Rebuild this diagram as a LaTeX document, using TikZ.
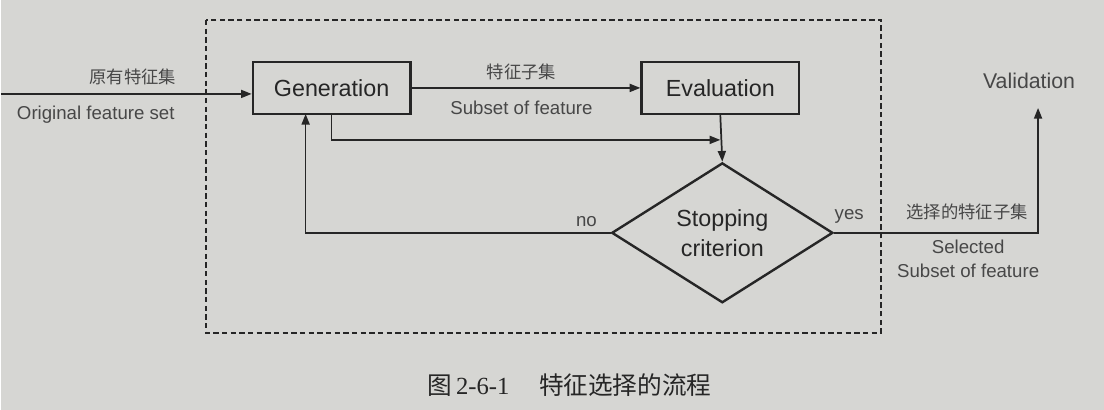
\documentclass[tikz,border=0pt]{standalone}
\usepackage{fontspec}
\setmainfont{Liberation Sans}
\newfontfamily\cjk{Noto Sans CJK SC}
\newfontfamily\capserif{Liberation Serif}
\usetikzlibrary{shapes.geometric, arrows.meta}
\definecolor{paper}{RGB}{214,214,211}
\definecolor{ink}{RGB}{38,38,38}

\tikzset{
  procbox/.style={draw=ink, line width=2pt, minimum width=118pt, minimum height=39pt, inner sep=0pt, font=\fontsize{17.5}{20}\selectfont, text=ink},
  critbox/.style={draw=ink, line width=1.8pt, diamond, minimum width=166pt, minimum height=105pt, inner sep=0pt, align=center, font=\fontsize{17.5}{22.5}\selectfont, text=ink},
  lbl/.style={inner sep=0.75pt, font=\fontsize{14}{16}\selectfont, text=ink!85},
  cnlbl/.style={inner sep=0.75pt, font=\cjk\fontsize{13}{15}\selectfont, text=ink!85},
  flow/.style={draw=ink, line width=1.3pt, -{Triangle[length=8pt,width=6pt]}},
}

\begin{document}
\begin{tikzpicture}[x=0.75pt,y=0.75pt,yscale=-1,xscale=1]
%set diagram left start at 0, and has height of 410
\path[fill=paper] (0,0) rectangle (1104,410);

%Dashed Box
\draw[ink, line width=1.6pt, dash pattern=on 4pt off 2.5pt] (205,20) rectangle (881,333);

% Shape: Rectangle
\node[procbox] (gen) at (331,88) {Generation};
% Shape: Rectangle
\node[procbox] (eval) at (720,88) {Evaluation};
% Shape: Diamond
\node[critbox] (crit) at (722,233) {Stopping\\criterion};

\coordinate (src) at (0,94);
\coordinate (join) at (720,140);
\coordinate (back) at (305,114);
\coordinate (valin) at (1038,108);

%Straight Lines
\draw[flow] (src) -- (src -| gen.west);
\draw[flow] (gen.east) -- (eval.west);
\draw[flow] (gen.south) |- (join);
\draw[flow] (eval.south) -- (crit.north);
\draw[flow] (crit.west) -| (back);
\draw[flow] (crit.east) -| (valin);

% Text Node
\node[cnlbl] (srccn) at (132,77) {原有特征集};
% Text Node
\node[lbl] (srcen) at (95,115) {Original feature set};
% Text Node
\node[cnlbl] (subcn) at (521,72) {特征子集};
% Text Node
\node[lbl] (suben) at (521,108) {Subset of feature};
% Text Node
\node[lbl] (no) at (586,222) {no};
% Text Node
\node[lbl] (yes) at (849,217) {yes};
% Text Node
\node[cnlbl] (selcn) at (967,212) {选择的特征子集};
% Text Node
\node[lbl, align=center, font=\fontsize{14}{18}\selectfont] (selen) at (968,259) {Selected\\Subset of feature};
% Text Node
\node[lbl, font=\fontsize{16}{18}\selectfont] (val) at (1029,81) {Validation};
% Text Node
\node[text=ink, font=\fontsize{18.5}{22}\selectfont] (cap) at (569,385) {\cjk 图\,\capserif 2-6-1\hspace{1.2em}\cjk 特征选择的流程};

\end{tikzpicture}
\end{document}
